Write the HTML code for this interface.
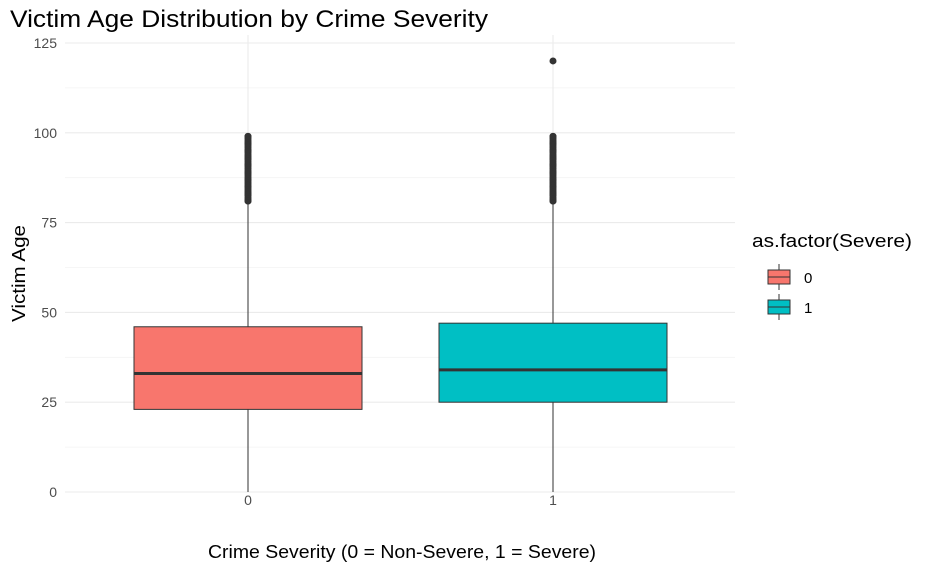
<!DOCTYPE html>
<html><head><meta charset="utf-8"><style>
body{margin:0;background:#fff;}
svg{display:block;font-family:"Liberation Sans",sans-serif;}
</style></head><body>
<svg id="c" width="940" height="577" viewBox="0 0 940 577">
<text x="10" y="27" font-size="24" textLength="478" lengthAdjust="spacingAndGlyphs" fill="#000">Victim Age Distribution by Crime Severity</text>
<g id="grid"></g>
<g id="boxes"></g>
<text x="208" y="558" font-size="18" textLength="388" lengthAdjust="spacingAndGlyphs" fill="#000">Crime Severity (0 = Non-Severe, 1 = Severe)</text>
<text transform="translate(25,322) rotate(-90)" font-size="18" textLength="97" lengthAdjust="spacingAndGlyphs" fill="#000">Victim Age</text>
<g>
<text x="752" y="247" font-size="18" textLength="160" lengthAdjust="spacingAndGlyphs" fill="#000">as.factor(Severe)</text>
<g>
<line x1="779" y1="264" x2="779" y2="290" stroke="#333"/>
<rect x="768" y="270" width="22" height="14" fill="#F8766D" stroke="#333"/>
<line x1="768" y1="277" x2="790" y2="277" stroke="#333"/>
<text x="804" y="283" font-size="15" fill="#000">0</text></g>
<g>
<line x1="779" y1="294" x2="779" y2="320" stroke="#333"/>
<rect x="768" y="300" width="22" height="14" fill="#00BFC4" stroke="#333"/>
<line x1="768" y1="307" x2="790" y2="307" stroke="#333"/>
<text x="804" y="313" font-size="15" fill="#000">1</text></g>
</g>
</svg>
<script>
const categories=["0","1"];
const colors=["#F8766D","#00BFC4"];
const q1=[23,25];
const medians=[33,34];
const q3=[46,47];
const whiskLow=[0,0];
const whiskHigh=[81,81];
const outliers=[[81,83,85,87,89,91,93,95,97,99],[81,83,85,87,89,91,93,95,97,99,120]];
const yTicks=[0,25,50,75,100,125];
const NS="http://www.w3.org/2000/svg";
const y=v=>492-v*3.592;
const xc=i=>248+i*305;
const halfW=114;
function mk(t,a,p){const e=document.createElementNS(NS,t);for(const k in a)e.setAttribute(k,a[k]);p.appendChild(e);return e;}
const g=document.getElementById('grid');
for(let i=0;i<yTicks.length;i++){
 const v=yTicks[i];
 const l=mk('line',{x1:65,x2:735,y1:y(v),y2:y(v),stroke:'#ebebeb','stroke-width':1.1},g);
 
 
 if(i<yTicks.length-1){const m=mk('line',{x1:65,x2:735,y1:y(v+12.5),y2:y(v+12.5),stroke:'#f3f3f3','stroke-width':0.8},g);
 
 }
 const t=mk('text',{x:57,y:y(v)+5,'font-size':14,'text-anchor':'end',fill:'#4d4d4d'},g);t.textContent=v;
 
 
}
categories.forEach((c,i)=>{
 const l=mk('line',{x1:xc(i),x2:xc(i),y1:35,y2:492,stroke:'#ebebeb','stroke-width':1.1},g);
 
 
 const t=mk('text',{x:xc(i),y:505,'font-size':14,'text-anchor':'middle',fill:'#4d4d4d'},g);t.textContent=c;
 
 
});
const b=document.getElementById('boxes');
categories.forEach((c,i)=>{
 const gg=mk('g',{},b);
 
 
 mk('line',{x1:xc(i),x2:xc(i),y1:y(whiskLow[i]),y2:y(q1[i]),stroke:'#333'},gg);
 mk('line',{x1:xc(i),x2:xc(i),y1:y(q3[i]),y2:y(whiskHigh[i]),stroke:'#333'},gg);
 mk('rect',{x:xc(i)-halfW,y:y(q3[i]),width:2*halfW,height:y(q1[i])-y(q3[i]),fill:colors[i],stroke:'#333','stroke-width':1},gg);
 mk('line',{x1:xc(i)-halfW,x2:xc(i)+halfW,y1:y(medians[i]),y2:y(medians[i]),stroke:'#333','stroke-width':3},gg);
 outliers[i].forEach(v=>{
  const d=mk('circle',{cx:xc(i),cy:y(v),r:3.5,fill:'#333'},gg);
  
  
 });
 for(let v=outliers[i][0];v<=99;v+=0.5){mk('circle',{cx:xc(i),cy:y(v),r:3.5,fill:'#333'},gg);}
});
</script>
</body></html>
